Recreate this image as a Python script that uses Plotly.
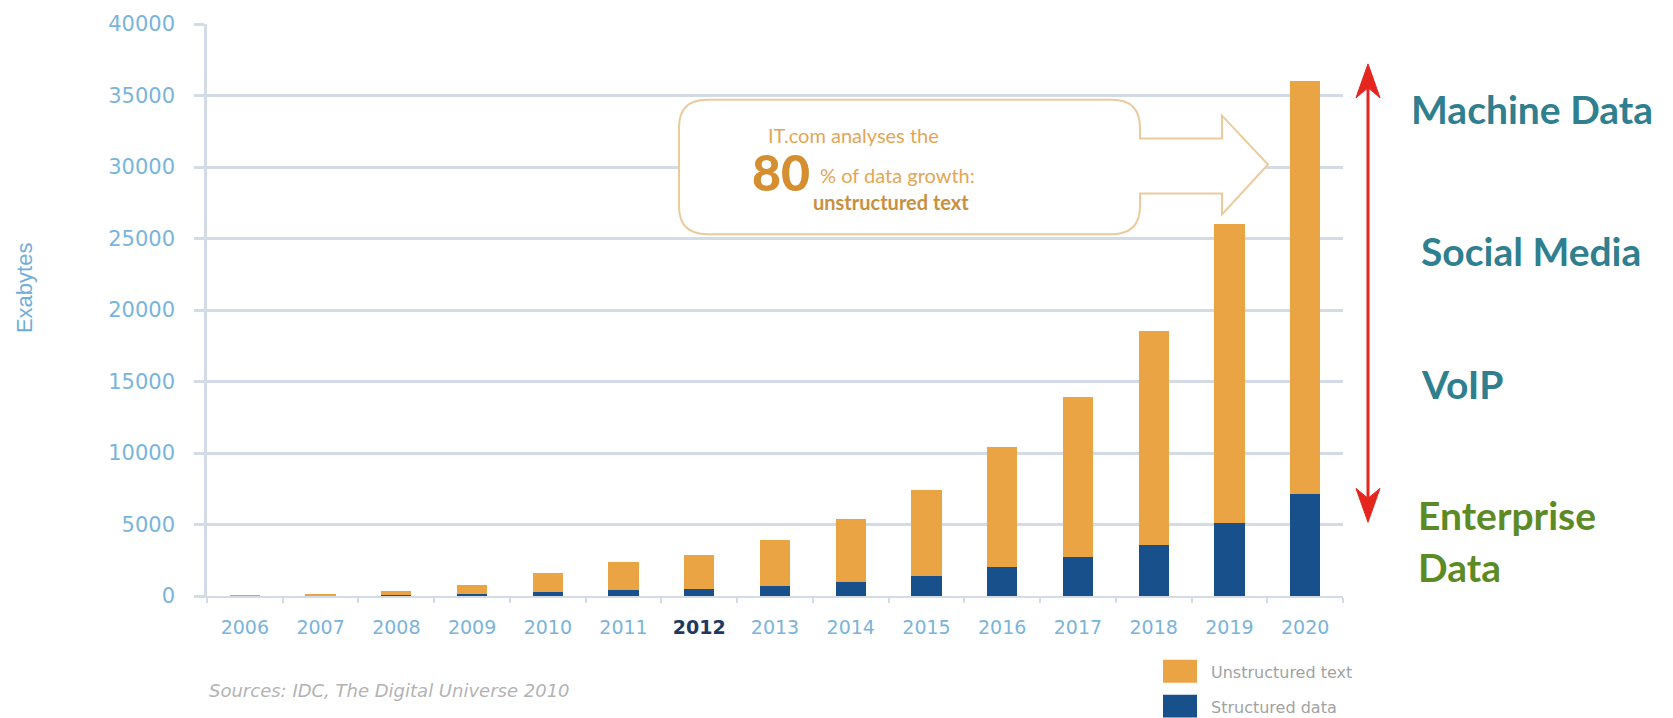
import plotly.graph_objects as go

# Yearly data volume, exabytes
years = ["2006", "2007", "2008", "2009", "2010", "2011", "2012", "2013",
         "2014", "2015", "2016", "2017", "2018", "2019", "2020"]
structured = [10, 30, 60, 120, 300, 400, 500, 700,
              950, 1400, 2000, 2700, 3600, 5100, 7100]
unstructured = [40, 120, 290, 680, 1300, 2000, 2400, 3200,
                4450, 6000, 8400, 11200, 14900, 20900, 28900]
y_ticks = [0, 5000, 10000, 15000, 20000, 25000, 30000, 35000, 40000]
tick_text = [f"<b><span style='color:#1E3A60'>{y}</span></b>" if y == "2012" else y
             for y in years]

W, H = 1673, 718
PL, PR, PT, PB = 207, 1343, 22, 596   # plot area in pixels


def px(x):
    return (x - PL) / (PR - PL)


def py(y):
    return (PB - y) / (PB - PT)


ORANGE = "#EBA443"
NAVY = "#17508B"
GRID = "#D3DCE6"
TICK_BLUE = "#79B4DC"

fig = go.Figure()
fig.add_trace(go.Bar(x=years, y=structured, name="Structured data",
                     marker=dict(color=NAVY, line=dict(width=0))))
fig.add_trace(go.Bar(x=years, y=unstructured, name="Unstructured text",
                     marker=dict(color=ORANGE, line=dict(width=0))))

fig.update_layout(
    width=W, height=H,
    margin=dict(l=PL, r=W - PR, t=PT, b=H - PB, pad=0),
    barmode="stack", bargap=0.6,
    plot_bgcolor="white", paper_bgcolor="white",
    showlegend=False,
    font=dict(family="DejaVu Sans"),
)
fig.update_xaxes(
    type="category", tickvals=years, ticktext=tick_text,
    tickson="boundaries", ticks="outside", ticklen=5, tickwidth=1.5, tickcolor=GRID,
    showline=True, linecolor=GRID, linewidth=2, showgrid=False,
    tickfont=dict(size=19, color=TICK_BLUE, family="DejaVu Sans"),
    ticklabelstandoff=13,
)
fig.update_yaxes(
    range=[0, 40000], tickvals=y_ticks, ticktext=[str(v) for v in y_ticks],
    showgrid=True, gridcolor=GRID, gridwidth=2.5,
    ticks="outside", ticklen=10, tickwidth=2.5, tickcolor=GRID,
    showline=True, linecolor=GRID, linewidth=2.5, zeroline=False,
    tickfont=dict(size=21, color=TICK_BLUE, family="DejaVu Sans"),
    ticklabelstandoff=15,
)

shapes = []
annotations = []

# Axis title placed at the far left edge
annotations.append(dict(x=px(24), y=py(287), text="Exabytes", textangle=-90,
                        xanchor="center",
                        font=dict(size=22, color="#6FAEDA", family="Liberation Sans")))

# Callout box with an arrow pointing at the tallest bar
r = 28
L, R, T, B = 679, 1140, 98, 233
pts = [
    ("M", (L + r, T)), ("L", (R - r, T)), ("Q", (R, T), (R, T + r)),
    ("L", (R, 137)), ("L", (1222, 137)), ("L", (1222, 114)), ("L", (1268, 163)),
    ("L", (1222, 213)), ("L", (1222, 192)), ("L", (R, 192)),
    ("L", (R, B - r)), ("Q", (R, B), (R - r, B)), ("L", (L + r, B)),
    ("Q", (L, B), (L, B - r)), ("L", (L, T + r)), ("Q", (L, T), (L + r, T)),
]
path = ""
for seg in pts:
    cmd = seg[0]
    coords = " ".join(f"{px(x):.5f},{py(y):.5f}" for x, y in seg[1:])
    path += f"{cmd} {coords} "
path += "Z"
shapes.append(dict(type="path", xref="paper", yref="paper", path=path,
                   fillcolor="white", line=dict(color="#EBCB9C", width=2), layer="above"))

annotations += [
    dict(x=px(766), y=py(133), text="IT.com analyses the", xanchor="left",
         font=dict(size=20, color="#E3A656", family="Lato")),
    dict(x=px(750), y=py(171), text="80", xanchor="left",
         font=dict(size=50, color="#D58E30", family="Lato", weight=900)),
    dict(x=px(818), y=py(174), text="% of data growth:", xanchor="left",
         font=dict(size=20, color="#E3A656", family="Lato")),
    dict(x=px(811), y=py(201), text="<b>unstructured text</b>", xanchor="left",
         font=dict(size=20, color="#C98F40", family="Lato")),
]

# Red double-headed arrow beside the 2020 bar
AX = 1368
RED = "#E5261F"
shapes.append(dict(type="line", xref="paper", yref="paper",
                   x0=px(AX), x1=px(AX), y0=py(70), y1=py(514),
                   line=dict(color=RED, width=3)))
for tip, back, notch in [(62, 96, 86), (522, 488, 498)]:
    p = (f"M {px(AX):.5f},{py(tip):.5f} L {px(AX + 12):.5f},{py(back):.5f} "
         f"L {px(AX):.5f},{py(notch):.5f} L {px(AX - 12):.5f},{py(back):.5f} Z")
    shapes.append(dict(type="path", xref="paper", yref="paper", path=p,
                       fillcolor=RED, line=dict(color=RED, width=1)))

TEAL = "#2F7F8F"
GREEN = "#5C8A25"
for text, x, y, color in [("Machine Data", 1409, 107, TEAL),
                          ("Social Media", 1419, 250, TEAL),
                          ("VoIP", 1419, 383, TEAL),
                          ("Enterprise", 1416, 515, GREEN),
                          ("Data", 1416, 567, GREEN)]:
    annotations.append(dict(x=px(x), y=py(y), text=f"<b>{text}</b>", xanchor="left",
                            font=dict(size=39, color=color, family="Lato")))

# Legend swatches
for y0, y1, color, label, ty in [(660, 683, ORANGE, "Unstructured text", 673),
                                 (695, 718, NAVY, "Structured data", 708)]:
    shapes.append(dict(type="rect", xref="paper", yref="paper",
                       x0=px(1163), x1=px(1197), y0=py(y1), y1=py(y0),
                       fillcolor=color, line=dict(width=0)))
    annotations.append(dict(x=px(1209), y=py(ty), text=label, xanchor="left",
                            font=dict(size=16, color="#A2A2A2", family="DejaVu Sans")))

annotations.append(dict(x=px(207), y=py(691), text="<i>Sources: IDC, The Digital Universe 2010</i>",
                        xanchor="left", font=dict(size=18, color="#B3B3B3", family="DejaVu Sans")))

for a in annotations:
    a.update(xref="paper", yref="paper", showarrow=False, yanchor="middle")

fig.update_layout(shapes=shapes, annotations=annotations)
fig.write_html("out.html")
